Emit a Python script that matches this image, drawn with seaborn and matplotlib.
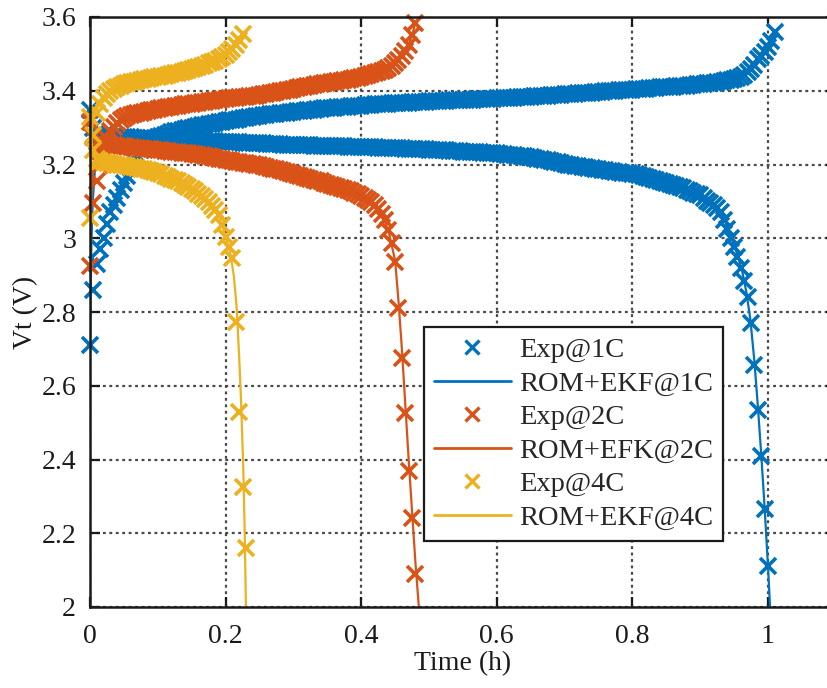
import numpy as np
import pandas as pd
import matplotlib
matplotlib.use("Agg")
import matplotlib.pyplot as plt
import seaborn as sns
from matplotlib.lines import Line2D
from matplotlib.ticker import FuncFormatter

sns.set_theme(style="ticks")
plt.rcParams["font.family"] = ["Liberation Serif", "DejaVu Serif"]

# Cycler logging interval (h); each Exp list below holds one reading per interval
DT = 0.005

# ---------------- measured terminal voltage (V) ----------------
exp_1c_charge = [
    2.710, 2.860, 2.930, 2.970, 3.000, 3.040, 3.070, 3.090, 3.110, 3.130,
    3.150, 3.170, 3.190, 3.210, 3.225, 3.240, 3.250, 3.258, 3.265, 3.270,
    3.275, 3.278, 3.281, 3.284, 3.287, 3.290, 3.292, 3.294, 3.296, 3.298,
    3.300, 3.302, 3.304, 3.306, 3.308, 3.309, 3.311, 3.313, 3.315, 3.316,
    3.318, 3.320, 3.321, 3.322, 3.324, 3.325, 3.327, 3.328, 3.329, 3.331,
    3.332, 3.333, 3.334, 3.336, 3.337, 3.338, 3.339, 3.340, 3.341, 3.342,
    3.343, 3.344, 3.345, 3.346, 3.347, 3.348, 3.349, 3.350, 3.351, 3.352,
    3.352, 3.353, 3.354, 3.355, 3.356, 3.356, 3.357, 3.358, 3.359, 3.359,
    3.360, 3.361, 3.361, 3.362, 3.363, 3.363, 3.364, 3.365, 3.365, 3.366,
    3.366, 3.367, 3.367, 3.368, 3.368, 3.369, 3.369, 3.370, 3.370, 3.370,
    3.371, 3.371, 3.372, 3.372, 3.373, 3.373, 3.374, 3.374, 3.375, 3.375,
    3.375, 3.376, 3.376, 3.376, 3.377, 3.377, 3.377, 3.378, 3.378, 3.378,
    3.379, 3.379, 3.380, 3.380, 3.381, 3.381, 3.382, 3.383, 3.383, 3.384,
    3.384, 3.385, 3.385, 3.386, 3.386, 3.387, 3.388, 3.388, 3.389, 3.389,
    3.390, 3.391, 3.391, 3.392, 3.393, 3.393, 3.394, 3.395, 3.395, 3.396,
    3.397, 3.397, 3.398, 3.399, 3.399, 3.400, 3.401, 3.401, 3.402, 3.403,
    3.403, 3.404, 3.405, 3.405, 3.406, 3.407, 3.407, 3.408, 3.409, 3.409,
    3.410, 3.411, 3.411, 3.412, 3.413, 3.414, 3.414, 3.415, 3.416, 3.417,
    3.418, 3.419, 3.420, 3.421, 3.422, 3.423, 3.425, 3.426, 3.428, 3.430,
    3.432, 3.435, 3.438, 3.443, 3.450, 3.460, 3.470, 3.485, 3.495, 3.505,
    3.518, 3.535, 3.560,
]
exp_1c_discharge = [
    3.348, 3.300, 3.286, 3.281, 3.279, 3.278, 3.277, 3.276, 3.276, 3.275,
    3.275, 3.274, 3.274, 3.273, 3.273, 3.272, 3.272, 3.271, 3.271, 3.270,
    3.270, 3.270, 3.269, 3.269, 3.268, 3.268, 3.267, 3.267, 3.266, 3.266,
    3.266, 3.265, 3.265, 3.264, 3.264, 3.264, 3.263, 3.263, 3.262, 3.262,
    3.262, 3.261, 3.261, 3.260, 3.260, 3.259, 3.259, 3.259, 3.258, 3.258,
    3.257, 3.257, 3.256, 3.256, 3.256, 3.255, 3.255, 3.254, 3.254, 3.254,
    3.253, 3.253, 3.253, 3.252, 3.252, 3.252, 3.251, 3.251, 3.251, 3.250,
    3.250, 3.250, 3.250, 3.249, 3.249, 3.249, 3.248, 3.248, 3.248, 3.248,
    3.248, 3.248, 3.247, 3.247, 3.247, 3.246, 3.246, 3.246, 3.245, 3.245,
    3.245, 3.244, 3.244, 3.243, 3.243, 3.243, 3.242, 3.242, 3.241, 3.241,
    3.240, 3.240, 3.239, 3.239, 3.238, 3.238, 3.237, 3.237, 3.236, 3.236,
    3.235, 3.235, 3.234, 3.234, 3.233, 3.233, 3.232, 3.232, 3.231, 3.231,
    3.230, 3.229, 3.228, 3.227, 3.226, 3.225, 3.224, 3.223, 3.222, 3.220,
    3.219, 3.218, 3.216, 3.215, 3.213, 3.212, 3.210, 3.208, 3.206, 3.204,
    3.202, 3.200, 3.199, 3.197, 3.196, 3.194, 3.193, 3.191, 3.190, 3.188,
    3.187, 3.186, 3.184, 3.183, 3.182, 3.181, 3.179, 3.178, 3.177, 3.176,
    3.175, 3.173, 3.171, 3.169, 3.166, 3.164, 3.161, 3.159, 3.156, 3.153,
    3.150, 3.147, 3.144, 3.141, 3.138, 3.135, 3.131, 3.128, 3.124, 3.120,
    3.116, 3.108, 3.100, 3.095, 3.090, 3.083, 3.070, 3.050, 3.025, 3.000,
    2.975, 2.950, 2.920, 2.885, 2.840, 2.770, 2.655, 2.535, 2.410, 2.265,
    2.110,
]
exp_2c_charge = [
    2.925, 3.095, 3.155, 3.200, 3.240, 3.270, 3.290, 3.303, 3.313, 3.321,
    3.327, 3.331, 3.334, 3.337, 3.339, 3.341, 3.343, 3.345, 3.347, 3.349,
    3.351, 3.352, 3.354, 3.355, 3.357, 3.358, 3.360, 3.361, 3.363, 3.364,
    3.365, 3.367, 3.368, 3.369, 3.370, 3.371, 3.373, 3.374, 3.375, 3.377,
    3.378, 3.379, 3.380, 3.381, 3.382, 3.383, 3.384, 3.385, 3.386, 3.387,
    3.389, 3.390, 3.391, 3.393, 3.395, 3.396, 3.398, 3.400, 3.401, 3.403,
    3.405, 3.407, 3.409, 3.410, 3.412, 3.414, 3.415, 3.417, 3.418, 3.420,
    3.421, 3.423, 3.424, 3.426, 3.427, 3.429, 3.430, 3.432, 3.434, 3.435,
    3.437, 3.440, 3.442, 3.445, 3.447, 3.450, 3.453, 3.457, 3.462, 3.468,
    3.475, 3.484, 3.495, 3.508, 3.525, 3.550, 3.585,
]
exp_2c_discharge = [
    3.316, 3.275, 3.262, 3.258, 3.256, 3.254, 3.253, 3.252, 3.251, 3.250,
    3.249, 3.248, 3.247, 3.246, 3.245, 3.244, 3.243, 3.242, 3.241, 3.240,
    3.239, 3.238, 3.237, 3.236, 3.235, 3.234, 3.233, 3.232, 3.231, 3.230,
    3.229, 3.228, 3.226, 3.225, 3.223, 3.222, 3.220, 3.218, 3.216, 3.214,
    3.213, 3.211, 3.210, 3.208, 3.207, 3.205, 3.204, 3.202, 3.201, 3.199,
    3.198, 3.196, 3.193, 3.191, 3.189, 3.187, 3.184, 3.182, 3.180, 3.177,
    3.175, 3.172, 3.170, 3.167, 3.164, 3.162, 3.159, 3.156, 3.154, 3.151,
    3.148, 3.145, 3.142, 3.139, 3.136, 3.133, 3.130, 3.127, 3.124, 3.120,
    3.115, 3.109, 3.103, 3.097, 3.090, 3.080, 3.065, 3.050, 3.022, 2.986,
    2.935, 2.810, 2.675, 2.525, 2.370, 2.240, 2.090,
]
exp_4c_charge = [
    3.055, 3.280, 3.340, 3.365, 3.380, 3.390, 3.398, 3.404, 3.409, 3.413,
    3.417, 3.420, 3.423, 3.425, 3.427, 3.429, 3.431, 3.433, 3.435, 3.436,
    3.438, 3.440, 3.441, 3.443, 3.445, 3.447, 3.449, 3.451, 3.453, 3.455,
    3.458, 3.461, 3.464, 3.467, 3.470, 3.474, 3.477, 3.482, 3.487, 3.492,
    3.497, 3.505, 3.513, 3.523, 3.537, 3.555,
]
exp_4c_discharge = [
    3.330, 3.240, 3.215, 3.210, 3.207, 3.205, 3.203, 3.202, 3.200, 3.199,
    3.198, 3.196, 3.194, 3.193, 3.191, 3.189, 3.187, 3.185, 3.182, 3.179,
    3.176, 3.173, 3.170, 3.166, 3.162, 3.158, 3.154, 3.150, 3.145, 3.140,
    3.134, 3.128, 3.121, 3.114, 3.106, 3.098, 3.088, 3.076, 3.063, 3.035,
    3.004, 2.975, 2.946, 2.774, 2.530, 2.326, 2.159,
]

# ---------------- ROM + EKF estimate (time in h, voltage in V) ----------------
rom_1c_charge_t = [0, 0.001, 0.002, 0.004, 0.007, 0.012, 0.02, 0.04, 0.1, 0.2, 0.3,
                   0.4, 0.5, 0.6, 0.7, 0.8, 0.9, 0.94, 0.96, 0.975, 0.985, 0.995,
                   1.005, 1.01]
rom_1c_charge_v = [2.69, 2.85, 2.98, 3.10, 3.18, 3.23, 3.255, 3.268, 3.275, 3.318,
                   3.343, 3.36, 3.371, 3.379, 3.39, 3.403, 3.418, 3.428, 3.438,
                   3.455, 3.475, 3.50, 3.535, 3.555]
rom_1c_discharge_t = [0, 0.003, 0.01, 0.05, 0.1, 0.2, 0.3, 0.4, 0.5, 0.6, 0.7, 0.8,
                      0.85, 0.9, 0.92, 0.935, 0.945, 0.955, 0.962, 0.968, 0.974,
                      0.98, 0.985, 0.99, 0.995, 1.0, 1.003]
rom_1c_discharge_v = [3.348, 3.30, 3.285, 3.275, 3.27, 3.262, 3.253, 3.248, 3.24,
                      3.23, 3.202, 3.175, 3.15, 3.116, 3.092, 3.055, 3.005, 2.955,
                      2.91, 2.855, 2.78, 2.665, 2.545, 2.415, 2.27, 2.11, 2.0]
rom_2c_charge_t = [0, 0.001, 0.002, 0.004, 0.008, 0.015, 0.025, 0.04, 0.1, 0.2, 0.3,
                   0.4, 0.44, 0.46, 0.47, 0.475, 0.48]
rom_2c_charge_v = [2.92, 3.02, 3.10, 3.17, 3.22, 3.26, 3.285, 3.313, 3.351, 3.378,
                   3.405, 3.437, 3.462, 3.495, 3.525, 3.55, 3.585]
rom_2c_discharge_t = [0, 0.003, 0.01, 0.05, 0.1, 0.2, 0.3, 0.35, 0.4, 0.42, 0.43,
                      0.44, 0.45, 0.455, 0.46, 0.465, 0.47, 0.475, 0.48, 0.485]
rom_2c_discharge_v = [3.316, 3.275, 3.258, 3.249, 3.239, 3.213, 3.175, 3.148, 3.115,
                      3.09, 3.065, 3.022, 2.94, 2.83, 2.70, 2.55, 2.40, 2.26, 2.12,
                      2.0]
rom_4c_charge_t = [0, 0.001, 0.002, 0.004, 0.008, 0.015, 0.03, 0.05, 0.1, 0.15, 0.2,
                   0.21, 0.22, 0.225]
rom_4c_charge_v = [3.05, 3.17, 3.26, 3.32, 3.355, 3.37, 3.398, 3.417, 3.438, 3.458,
                   3.497, 3.513, 3.537, 3.555]
rom_4c_discharge_t = [0, 0.003, 0.01, 0.05, 0.1, 0.15, 0.19, 0.2, 0.207, 0.212,
                      0.216, 0.22, 0.223, 0.226, 0.228, 0.23]
rom_4c_discharge_v = [3.33, 3.25, 3.215, 3.198, 3.176, 3.134, 3.063, 3.005, 2.96,
                      2.90, 2.82, 2.68, 2.55, 2.38, 2.22, 2.0]

rates = ["1C", "2C", "4C"]
colors = ["#0072BD", "#D95319", "#EDB120"]
exp_labels = ["Exp@1C", "Exp@2C", "Exp@4C"]
rom_labels = ["ROM+EKF@1C", "ROM+EFK@2C", "ROM+EKF@4C"]
x_ticks = [0, 0.2, 0.4, 0.6, 0.8, 1.0]
y_ticks = [2.0, 2.2, 2.4, 2.6, 2.8, 3.0, 3.2, 3.4, 3.6]

exp_runs = {
    "1C": (exp_1c_charge, exp_1c_discharge),
    "2C": (exp_2c_charge, exp_2c_discharge),
    "4C": (exp_4c_charge, exp_4c_discharge),
}
rom_runs = {
    "1C": ((rom_1c_charge_t, rom_1c_charge_v), (rom_1c_discharge_t, rom_1c_discharge_v)),
    "2C": ((rom_2c_charge_t, rom_2c_charge_v), (rom_2c_discharge_t, rom_2c_discharge_v)),
    "4C": ((rom_4c_charge_t, rom_4c_charge_v), (rom_4c_discharge_t, rom_4c_discharge_v)),
}


def logged(volts, run):
    return pd.DataFrame({"t": np.arange(len(volts)) * DT, "V": volts, "run": run})


def estimated(t, v, run):
    return pd.DataFrame({"t": t, "V": v, "run": run})


fig = plt.figure(figsize=(8.28, 6.88), dpi=100)
# axes run 0..1.1 h at 678 px per hour; the right edge falls just past the canvas
ax = fig.add_axes([90 / 828, 81 / 688, 745.8 / 828, 590 / 688])

for rate, color in zip(rates, colors):
    charge, discharge = exp_runs[rate]
    df_exp = pd.concat([logged(charge, "charge"), logged(discharge, "discharge")])
    sns.lineplot(data=df_exp, x="t", y="V", units="run", estimator=None, sort=False,
                 color=color, marker="x", markersize=11, markeredgewidth=2.6,
                 markeredgecolor=color, linestyle="none", legend=False,
                 clip_on=False, ax=ax)
    (tc, vc), (td, vd) = rom_runs[rate]
    df_rom = pd.concat([estimated(tc, vc, "charge"), estimated(td, vd, "discharge")])
    sns.lineplot(data=df_rom, x="t", y="V", units="run", estimator=None, sort=False,
                 color=color, linewidth=1.6, legend=False, ax=ax)

ax.set_xlim(0, 1.1)
ax.set_ylim(2, 3.6)
ax.set_xticks(x_ticks)
ax.set_yticks(y_ticks)
fmt = FuncFormatter(lambda v, _: f"{v:g}")
ax.xaxis.set_major_formatter(fmt)
ax.yaxis.set_major_formatter(fmt)

ax.set_axisbelow(True)
ax.grid(True, color="#4a4a4a", linestyle=(0, (1.3, 1.6)), linewidth=1.6)
for side in ax.spines.values():
    side.set_linewidth(1.8)
    side.set_color("#1a1a1a")
ax.tick_params(direction="in", length=7, width=1.6, labelsize=20, top=True,
               right=True, colors="#1a1a1a", pad=10)
ax.tick_params(axis="x", pad=12)

ax.set_xlabel("Time (h)", fontsize=20, color="#1a1a1a", labelpad=2)
ax.set_ylabel("Vt (V)", fontsize=20, color="#1a1a1a", labelpad=2)

handles = []
for color, el, rl in zip(colors, exp_labels, rom_labels):
    handles.append(Line2D([], [], color=color, marker="x", linestyle="none",
                          markersize=10, markeredgewidth=2.4, label=el))
    handles.append(Line2D([], [], color=color, linewidth=2, label=rl))

leg = ax.legend(handles=handles, loc="upper left",
                bbox_to_anchor=(424 / 828, (688 - 327) / 688),
                bbox_transform=fig.transFigure, fontsize=20.5, frameon=True,
                fancybox=False, framealpha=1, edgecolor="#1a1a1a",
                borderaxespad=0, borderpad=0.35, labelspacing=0.27,
                handlelength=2.7, handletextpad=0.3, numpoints=1)
leg.get_frame().set_linewidth(1.6)

fig.savefig("out.png", dpi=100)
